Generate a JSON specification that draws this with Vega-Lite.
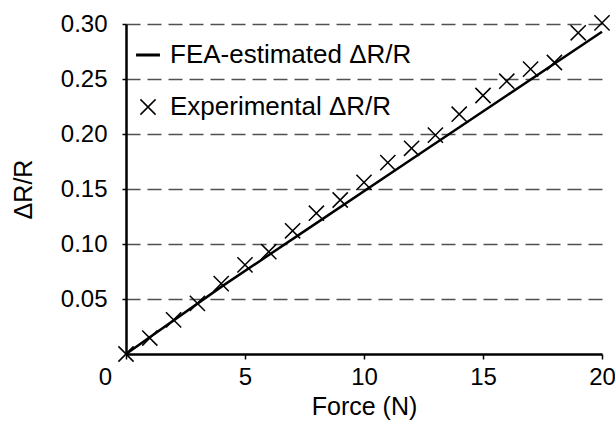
{
  "$schema": "https://vega.github.io/schema/vega-lite/v6.json",
  "width": 476,
  "height": 330,
  "autosize": {"type": "none"},
  "padding": {"left": 126, "top": 24, "right": 13, "bottom": 71},
  "background": "white",
  "config": {
    "view": {"stroke": null},
    "font": "Liberation Sans",
    "axis": {
      "domainColor": "black",
      "domainWidth": 2.5,
      "tickColor": "black",
      "tickWidth": 1.5,
      "labelColor": "black",
      "labelFontSize": 24,
      "titleColor": "black",
      "titleFontSize": 25,
      "titleFontWeight": "normal",
      "labelFlush": false,
      "labelOverlap": false
    }
  },
  "datasets": {
    "fea": [
      {"force": 0, "dr": 0.0, "series": "FEA-estimated ΔR/R"},
      {"force": 4, "dr": 0.061, "series": "FEA-estimated ΔR/R"},
      {"force": 8, "dr": 0.119, "series": "FEA-estimated ΔR/R"},
      {"force": 12, "dr": 0.177, "series": "FEA-estimated ΔR/R"},
      {"force": 16, "dr": 0.235, "series": "FEA-estimated ΔR/R"},
      {"force": 20, "dr": 0.293, "series": "FEA-estimated ΔR/R"}
    ],
    "exp": [
      {"force": 0, "dr": 0.0, "series": "Experimental ΔR/R"},
      {"force": 1, "dr": 0.0145, "series": "Experimental ΔR/R"},
      {"force": 2, "dr": 0.031, "series": "Experimental ΔR/R"},
      {"force": 3, "dr": 0.046, "series": "Experimental ΔR/R"},
      {"force": 4, "dr": 0.064, "series": "Experimental ΔR/R"},
      {"force": 5, "dr": 0.081, "series": "Experimental ΔR/R"},
      {"force": 6, "dr": 0.093, "series": "Experimental ΔR/R"},
      {"force": 7, "dr": 0.112, "series": "Experimental ΔR/R"},
      {"force": 8, "dr": 0.128, "series": "Experimental ΔR/R"},
      {"force": 9, "dr": 0.140, "series": "Experimental ΔR/R"},
      {"force": 10, "dr": 0.156, "series": "Experimental ΔR/R"},
      {"force": 11, "dr": 0.174, "series": "Experimental ΔR/R"},
      {"force": 12, "dr": 0.187, "series": "Experimental ΔR/R"},
      {"force": 13, "dr": 0.199, "series": "Experimental ΔR/R"},
      {"force": 14, "dr": 0.218, "series": "Experimental ΔR/R"},
      {"force": 15, "dr": 0.235, "series": "Experimental ΔR/R"},
      {"force": 16, "dr": 0.248, "series": "Experimental ΔR/R"},
      {"force": 17, "dr": 0.259, "series": "Experimental ΔR/R"},
      {"force": 18, "dr": 0.265, "series": "Experimental ΔR/R"},
      {"force": 19, "dr": 0.292, "series": "Experimental ΔR/R"},
      {"force": 20, "dr": 0.301, "series": "Experimental ΔR/R"}
    ]
  },
  "encoding": {
    "x": {
      "field": "force",
      "type": "quantitative",
      "title": "Force (N)",
      "scale": {"domain": [0, 20], "nice": false, "zero": false},
      "axis": {
        "values": [0, 5, 10, 15, 20],
        "grid": false,
        "tickSize": 5,
        "labelPadding": 6,
        "titlePadding": 5,
        "labelOffset": {"condition": {"test": "datum.value === 0", "value": -21}, "value": 0}
      }
    },
    "y": {
      "field": "dr",
      "type": "quantitative",
      "title": "ΔR/R",
      "scale": {"domain": [0, 0.3], "nice": false},
      "axis": {
        "values": [0.05, 0.1, 0.15, 0.2, 0.25, 0.3],
        "format": ".2f",
        "grid": true,
        "gridColor": "#505050",
        "gridDash": [14, 7],
        "gridWidth": 1.5,
        "tickSize": 4,
        "labelPadding": 15,
        "titlePadding": 24
      }
    }
  },
  "layer": [
    {
      "data": {"name": "fea"},
      "mark": {"type": "line", "color": "black", "strokeWidth": 2.5}
    },
    {
      "data": {"name": "exp"},
      "mark": {"type": "point", "filled": false, "color": "black", "strokeWidth": 1.5, "size": 256, "opacity": 1},
      "encoding": {
        "shape": {
          "field": "series",
          "type": "nominal",
          "scale": {
            "domain": ["FEA-estimated ΔR/R", "Experimental ΔR/R"],
            "range": ["M-1.4,-0.1L1.4,-0.1L1.4,0.1L-1.4,0.1Z", "M-0.95,-0.95L0.95,0.95M-0.95,0.95L0.95,-0.95"]
          },
          "legend": {
            "title": null,
            "orient": "none",
            "legendX": 9,
            "legendY": 18,
            "padding": 0,
            "symbolSize": 256,
            "symbolStrokeColor": "black",
            "symbolStrokeWidth": 1.5,
            "symbolOpacity": 1,
            "labelFontSize": 26,
            "labelColor": "black",
            "labelLimit": 400,
            "labelOffset": 9,
            "rowPadding": 26
          }
        }
      }
    }
  ]
}
